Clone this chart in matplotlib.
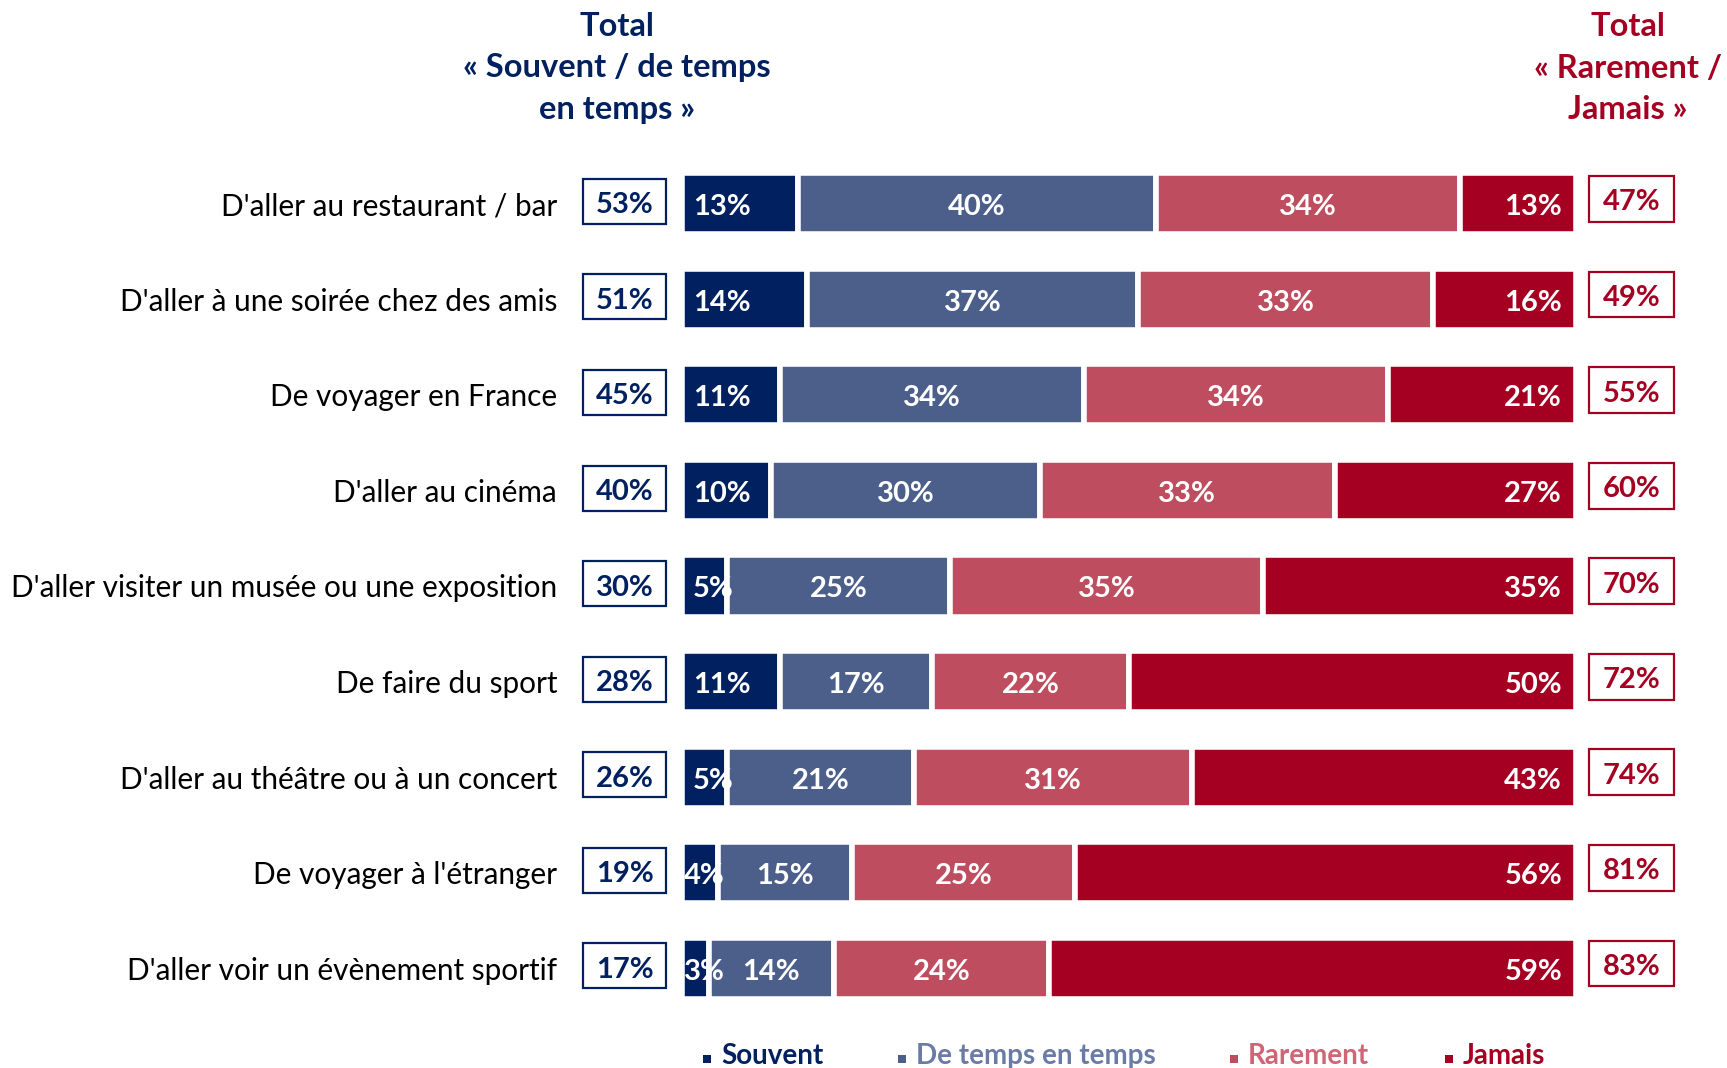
import matplotlib
matplotlib.use("Agg")
import matplotlib.pyplot as plt
from matplotlib.patches import Rectangle

plt.rcParams["font.family"] = ["Lato", "DejaVu Sans"]

# données
categories = ["D'aller au restaurant / bar", "D'aller à une soirée chez des amis",
              "De voyager en France", "D'aller au cinéma",
              "D'aller visiter un musée ou une exposition", "De faire du sport",
              "D'aller au théâtre ou à un concert", "De voyager à l'étranger",
              "D'aller voir un évènement sportif"]
souvent = [13, 14, 11, 10, 5, 11, 5, 4, 3]
temps = [40, 37, 34, 30, 25, 17, 21, 15, 14]
rarement = [34, 33, 34, 33, 35, 22, 31, 25, 24]
jamais = [13, 16, 21, 27, 35, 50, 43, 56, 59]
total_pos = [53, 51, 45, 40, 30, 28, 26, 19, 17]
total_neg = [47, 49, 55, 60, 70, 72, 74, 81, 83]
series_names = ["Souvent", "De temps en temps", "Rarement", "Jamais"]

c_souv = "#002060"
c_temps = "#4C5F8B"
c_rare = "#BE4E5F"
c_jam = "#A50021"
colors = [c_souv, c_temps, c_rare, c_jam]
legend_colors = ["#002060", "#6A7BA6", "#CF6575", "#A50021"]

W, H = 1727, 1068
fig = plt.figure(figsize=(W / 100, H / 100), dpi=100)
ax = fig.add_axes([682 / W, 1 - 1016 / H, 894 / W, 860 / H])

y = list(range(len(categories)))
left = [0] * len(y)
for vals, col in zip([souvent, temps, rarement, jamais], colors):
    ax.barh(y, vals, left=left, height=0.64, color=col, edgecolor="white", linewidth=4)
    left = [l + v for l, v in zip(left, vals)]

fs = 21
dy = -2.5  # léger décalage vers le bas des étiquettes
lab = dict(textcoords="offset points", va="center", color="white", fontsize=fs, fontweight="bold")
for i in y:
    # Souvent : inside base
    pad = 8 if souvent[i] >= 5 else 1.5
    ax.annotate(f"{souvent[i]}%", (0, i), xytext=(pad, dy), ha="left", **lab)
    ax.annotate(f"{temps[i]}%", (souvent[i] + temps[i] / 2, i), xytext=(0, dy), ha="center", **lab)
    x0 = souvent[i] + temps[i]
    ax.annotate(f"{rarement[i]}%", (x0 + rarement[i] / 2, i), xytext=(0, dy), ha="center", **lab)
    ax.annotate(f"{jamais[i]}%", (100, i), xytext=(-10, dy), ha="right", **lab)

    # encadrés totaux
    ax.add_patch(Rectangle((-11.07, i - 0.26), 9.28, 0.47, facecolor="white",
                           edgecolor=c_souv, linewidth=1.6, clip_on=False))
    ax.annotate(f"{total_pos[i]}%", (-11.07 + 9.28 / 2, i - 0.02), xytext=(0, dy),
                textcoords="offset points", ha="center", va="center", annotation_clip=False,
                color=c_souv, fontsize=fs, fontweight="bold")
    ax.add_patch(Rectangle((101.5, i - 0.29), 9.5, 0.48, facecolor="white",
                           edgecolor=c_jam, linewidth=1.6, clip_on=False))
    ax.annotate(f"{total_neg[i]}%", (101.5 + 9.5 / 2, i - 0.05), xytext=(0, dy),
                textcoords="offset points", ha="center", va="center", annotation_clip=False,
                color=c_jam, fontsize=fs, fontweight="bold")

ax.set_xlim(0, 100)
ax.set_ylim(8.5, -0.5)
ax.set_yticks(y, categories, fontsize=21.4)
ax.tick_params(axis="y", length=0, pad=90)
ax.set_xticks([])
for s in ax.spines.values():
    s.set_visible(False)

# en-têtes
fig.text(617 / W, 1 - 68 / H, "Total\n« Souvent / de temps\nen temps »", ha="center", va="center",
         color=c_souv, fontsize=23.5, fontweight="bold", linespacing=1.52)
fig.text(1628 / W, 1 - 68 / H, "Total\n« Rarement /\nJamais »", ha="center", va="center",
         color=c_jam, fontsize=23.5, fontweight="bold", linespacing=1.52)

# légende
leg_x = [707, 902, 1234, 1449]
for xm, name, col, tcol in zip(leg_x, series_names, colors, legend_colors):
    fig.patches.append(Rectangle(((xm - 4) / W, 1 - (1059 + 4) / H), 8 / W, 8 / H,
                                 facecolor=col, edgecolor="none", transform=fig.transFigure))
    fig.text((xm + 14) / W, 1 - 1056 / H, name, ha="left", va="center", color=tcol,
             fontsize=20, fontweight="bold")

fig.savefig("out.png", dpi=100)
